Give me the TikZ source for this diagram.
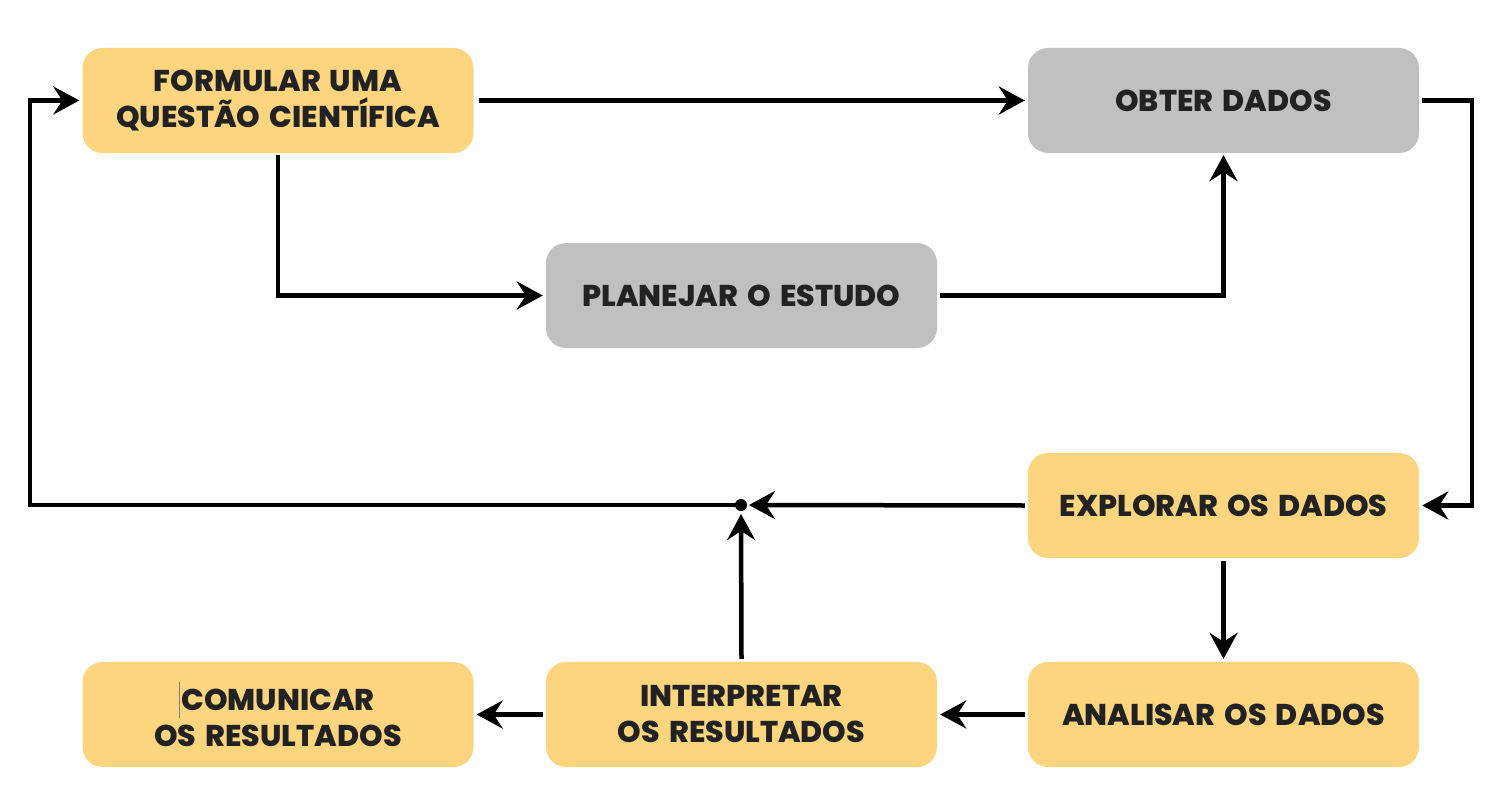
\documentclass[tikz,border=0pt]{standalone}
\usepackage{fontspec}
\setmainfont{Poppins}[BoldFont={Poppins ExtraBold},WordSpace=1.6]
\usetikzlibrary{arrows.meta}
\definecolor{boxyellow}{HTML}{FDD57E}
\definecolor{boxgray}{HTML}{C0C0C0}
\definecolor{txt}{HTML}{222222}
\begin{document}
\begin{tikzpicture}[x=1pt,y=-1pt,
  stepbox/.style={rounded corners=20pt, minimum width=391pt, minimum height=105pt,
    inner sep=0pt, align=center, text=txt,
    font=\fontsize{30}{36}\selectfont\bfseries},
  ybox/.style={stepbox, fill=boxyellow},
  gbox/.style={stepbox, fill=boxgray},
  conn/.style={draw=black, line width=4.5pt, line join=miter,
    -{Stealth[length=26pt,width=28pt,inset=9pt]}}]
\useasboundingbox (0,0) rectangle (1511,805);
\node[ybox] (form) at (278,100.5) {FORMULAR UMA\\QUESTÃO CIENTÍFICA};
\node[gbox] (obter) at (1223.5,100.5) {OBTER DADOS};
\node[gbox] (plan) at (741.5,295.5) {PLANEJAR O ESTUDO};
\node[ybox] (expl) at (1223.5,505.5) {EXPLORAR OS DADOS};
\node[ybox] (anal) at (1223.5,714.5) {ANALISAR OS DADOS};
\node[ybox] (interp) at (741.5,714.5) {INTERPRETAR\\OS RESULTADOS};
\node[ybox] (comun) at (278,714.5) {\llap{\textcolor{gray}{\rule[-7pt]{0.8pt}{36pt}}\hspace{2pt}}COMUNICAR\\OS RESULTADOS};
\coordinate (dot) at (741,505);
% connectors
\draw[conn] ([xshift=5pt]form.east) -- ([xshift=-3pt]obter.west);
\draw[conn] ([yshift=-2pt]form.south) |- ([xshift=-3pt]plan.west);
\draw[conn] ([xshift=3pt]plan.east) -| ([yshift=-2pt]obter.south);
\draw[conn] ([xshift=3pt]obter.east) -- (1472,100.5) |- ([xshift=3pt]expl.east);
\draw[conn] ([xshift=-3pt]expl.west) -- ([xshift=8pt]dot);
\draw[conn] ([yshift=3pt]interp.north) -- ([yshift=-9pt]dot);
\draw[conn] (dot) -- (30,505) |- ([xshift=-3pt]form.west);
\draw[conn] ([yshift=-3pt]expl.south) -- ([yshift=3pt]anal.north);
\draw[conn] ([xshift=-3pt]anal.west) -- ([xshift=3pt]interp.east);
\draw[conn] ([xshift=-3pt]interp.west) -- ([xshift=3pt]comun.east);
\fill[black] (dot) circle (6pt);
\end{tikzpicture}
\end{document}
